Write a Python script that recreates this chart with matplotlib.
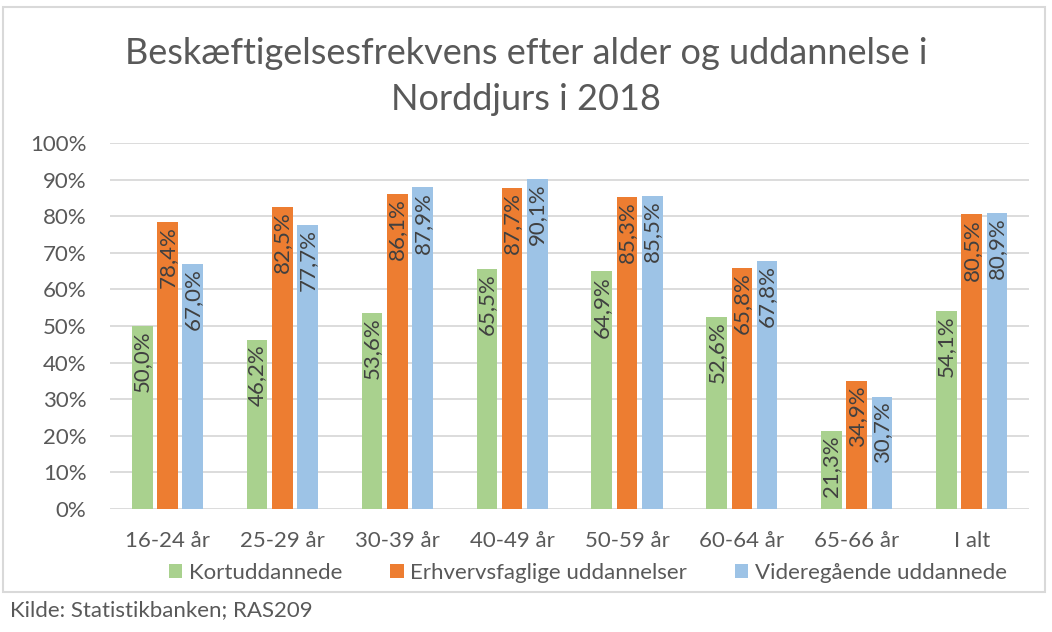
import numpy as np
import matplotlib
import matplotlib.pyplot as plt
from matplotlib.patches import Rectangle
from matplotlib.ticker import FuncFormatter

# data
categories = ["16-24 år", "25-29 år", "30-39 år", "40-49 år", "50-59 år",
              "60-64 år", "65-66 år", "I alt"]
kortuddannede = [50.0, 46.2, 53.6, 65.5, 64.9, 52.6, 21.3, 54.1]
erhvervsfaglige = [78.4, 82.5, 86.1, 87.7, 85.3, 65.8, 34.9, 80.5]
videregaaende = [67.0, 77.7, 87.9, 90.1, 85.5, 67.8, 30.7, 80.9]
series_names = ["Kortuddannede", "Erhvervsfaglige uddannelser",
                "Videregående uddannede"]

colors = ["#A9D18E", "#ED7D31", "#9DC3E6"]
plt.rcParams['font.family'] = ['Lato', 'DejaVu Sans']
txt = "#595959"

fig = plt.figure(figsize=(10.52, 6.32), dpi=100)
ax = fig.add_axes([0.1046, 0.1946, 0.8736, 0.5791])

x = np.arange(len(categories))
w = 0.18
off = 0.22
allseries = [kortuddannede, erhvervsfaglige, videregaaende]
for i, (vals, c, name) in enumerate(zip(allseries, colors, series_names)):
    bars = ax.bar(x + (i - 1) * off, vals, width=w, color=c, label=name, zorder=2)
    for b, v in zip(bars, vals):
        ax.text(b.get_x() + b.get_width() / 2, v - 1.2,
                ("%.1f%%" % v).replace(".", ","), rotation=90,
                ha="center", va="top", fontsize=16, color="#404040", zorder=3)

ax.set_xlim(-0.5, len(categories) - 0.5)
ax.set_ylim(0, 100)
ax.set_yticks(np.arange(0, 101, 10))
ax.yaxis.set_major_formatter(FuncFormatter(lambda v, p: "%d%%" % v))
ax.set_xticks(x)
ax.set_xticklabels(categories)
ax.tick_params(length=0, labelsize=16, colors=txt)
ax.tick_params(axis="x", pad=16)
ax.tick_params(axis="y", pad=17)
ax.grid(axis="y", color="#D9D9D9", linewidth=1.3, zorder=0)
for s in ax.spines.values():
    s.set_visible(False)

fig.text(0.5, 0.915, "Beskæftigelsesfrekvens efter alder og uddannelse i",
         ha="center", va="center", fontsize=26, color=txt)
fig.text(0.5, 0.843, "Norddjurs i 2018", ha="center", va="center",
         fontsize=26, color=txt)

ax.legend(loc="center", bbox_to_anchor=(0.52, -0.175), ncol=3, frameon=False,
          fontsize=16, labelcolor=txt, handlelength=0.6, handleheight=0.6,
          handletextpad=0.3, columnspacing=2.15)

fig.patches.append(Rectangle((3 / 1052, 1 - 592 / 632), 1042 / 1052, 585 / 632,
                             transform=fig.transFigure, fill=False,
                             edgecolor="#D9D9D9", linewidth=1.5))
fig.text(10 / 1052, 1 - 610 / 632, "Kilde: Statistikbanken; RAS209",
         ha="left", va="center", fontsize=16, color=txt)

fig.savefig("out.png", dpi=100)
